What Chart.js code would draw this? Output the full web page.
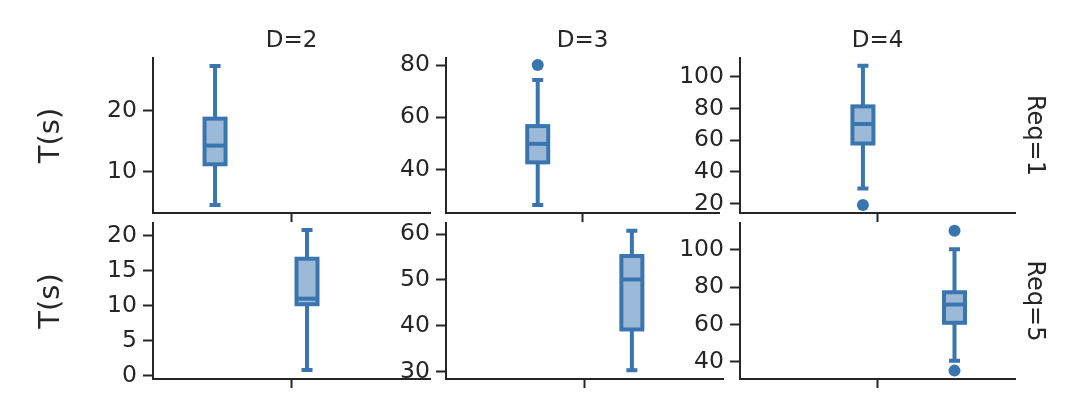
<!DOCTYPE html>
<html>
<head>
<meta charset="utf-8">
<script src="https://cdn.jsdelivr.net/npm/chart.js@4.4.0/dist/chart.umd.min.js"></script>
<style>
  body { margin: 0; background: #fff; width: 1082px; height: 406px; position: relative; overflow: hidden; }
  canvas { position: absolute; }
</style>
</head>
<body>
<canvas id="p0"></canvas><canvas id="p1"></canvas><canvas id="p2"></canvas>
<canvas id="p3"></canvas><canvas id="p4"></canvas><canvas id="p5"></canvas>
<script>
// facets
const dLabels = ['D=2', 'D=3', 'D=4'];
const reqLabels = ['Req=1', 'Req=5'];

// box stats, row by row (Req=1 then Req=5), columns D=2, D=3, D=4
const lowWhisker  = [4.6, 26.4, 29.5, 0.8, 30.3, 40.5];
const q1          = [11.25, 42.7, 57.9, 10.2, 39.2, 60.9];
const median      = [14.3, 49.8, 70.2, 11.0, 50.1, 70.7];
const q3          = [18.7, 56.6, 81.3, 16.7, 55.2, 77.3];
const highWhisker = [27.3, 74.3, 106.9, 20.8, 60.7, 100.4];
const outliers    = [[], [80], [19.2], [], [], [110.4, 35.2]];
// dodge position of each box along the x band (0..1)
const boxX = [0.224, 0.336, 0.447, 0.556, 0.671, 0.78];

// y axis ranges and tick steps
const yMin  = [3.3, 23.3, 14.1, -0.47, 28.4, 30.7];
const yMax  = [28.6, 82.7, 111.8, 21.8, 62.4, 114.5];
const yStep = [10, 20, 20, 5, 10, 20];

const STROKE = 'rgb(58,117,175)';
const FILL = 'rgba(58,117,175,0.5)';
const INK = '#262626';
const BOX_HALF = 10.5, CAP_HALF = 5.5;
const TICK_SIZE = 23.5, TITLE_SIZE = 23, SUB_SIZE = 24, AXIS_TITLE_SIZE = 29;

Chart.defaults.font.family = 'DejaVu Sans';
Chart.defaults.color = INK;

// page grid of the plot areas
const colLeft = [153, 446, 740], colRight = [430, 723, 1015];
const rowTop = [58, 223], rowBottom = [213, 379];

const boxPlugin = {
  id: 'boxes',
  afterDatasetsDraw(chart, args, opts) {
    const i = opts.panel;
    const {x, y} = chart.scales;
    const ctx = chart.ctx;
    const cx = x.getPixelForValue(boxX[i]);
    const py = v => y.getPixelForValue(v);
    ctx.save();
    ctx.strokeStyle = STROKE;
    ctx.lineWidth = 4;
    ctx.beginPath();
    ctx.moveTo(cx, py(q3[i])); ctx.lineTo(cx, py(highWhisker[i]));
    ctx.moveTo(cx, py(q1[i])); ctx.lineTo(cx, py(lowWhisker[i]));
    ctx.moveTo(cx - CAP_HALF, py(highWhisker[i])); ctx.lineTo(cx + CAP_HALF, py(highWhisker[i]));
    ctx.moveTo(cx - CAP_HALF, py(lowWhisker[i])); ctx.lineTo(cx + CAP_HALF, py(lowWhisker[i]));
    ctx.stroke();
    const top = py(q3[i]), bot = py(q1[i]);
    ctx.fillStyle = '#fff';
    ctx.fillRect(cx - BOX_HALF, top, BOX_HALF * 2, bot - top);
    ctx.fillStyle = FILL;
    ctx.fillRect(cx - BOX_HALF, top, BOX_HALF * 2, bot - top);
    ctx.strokeRect(cx - BOX_HALF, top, BOX_HALF * 2, bot - top);
    ctx.beginPath();
    ctx.moveTo(cx - BOX_HALF, py(median[i])); ctx.lineTo(cx + BOX_HALF, py(median[i]));
    ctx.stroke();
    ctx.restore();
  }
};

const TITLE_H = TITLE_SIZE * 1.2 + 3;
const SUB_W = SUB_SIZE * 1.2 + 5;

for (let i = 0; i < 6; i++) {
  const r = Math.floor(i / 3), c = i % 3;
  const left = c === 0 ? 0 : colLeft[c] - 80;
  const yAxisW = colLeft[c] - left;
  const top = r === 0 ? 0 : rowTop[1] - 8;
  const right = c === 2 ? 1082 : colRight[c] + 2;
  const bottom = rowBottom[r] + 12;
  const padTop = rowTop[r] - top - (r === 0 ? TITLE_H : 0);
  const padRight = c === 2 ? right - colRight[c] - SUB_W : 2;

  const cv = document.getElementById('p' + i);
  cv.width = right - left;
  cv.height = bottom - top;
  cv.style.left = left + 'px';
  cv.style.top = top + 'px';

  new Chart(cv, {
    type: 'scatter',
    data: {
      datasets: [{
        data: outliers[i].map(v => ({x: boxX[i], y: v})),
        pointRadius: 6,
        pointBackgroundColor: STROKE,
        pointBorderWidth: 0
      }]
    },
    options: {
      responsive: false,
      animation: false,
      events: [],
      layout: { padding: { top: padTop, right: padRight, bottom: 0, left: 0 } },
      plugins: {
        legend: { display: false },
        tooltip: { enabled: false },
        boxes: { panel: i },
        title: {
          display: r === 0,
          text: dLabels[c],
          fullSize: false,
          font: { size: TITLE_SIZE, weight: 'normal' },
          padding: { top: 0, bottom: 3 },
          color: INK
        },
        subtitle: {
          display: c === 2,
          text: reqLabels[r],
          position: 'right',
          fullSize: false,
          font: { size: SUB_SIZE, weight: 'normal' },
          padding: { top: 0, bottom: 5 },
          color: INK
        }
      },
      scales: {
        x: {
          type: 'linear',
          min: 0, max: 1,
          afterBuildTicks: s => { s.ticks = [{ value: 0.5 }]; },
          afterFit: s => { s.height = 12; s.paddingLeft = 0; s.paddingRight = 0; },
          ticks: { display: false },
          grid: { drawOnChartArea: false, tickLength: 9, tickWidth: 2, tickColor: INK },
          border: { color: INK, width: 2 }
        },
        y: {
          min: yMin[i], max: yMax[i],
          afterFit: s => { s.width = yAxisW; s.paddingTop = 0; s.paddingBottom = 0; },
          ticks: { stepSize: yStep[i], includeBounds: false, padding: 6, font: { size: TICK_SIZE }, color: INK },
          grid: { drawOnChartArea: false, tickLength: 10, tickWidth: 2, tickColor: INK },
          border: { color: INK, width: 2 },
          title: {
            display: c === 0,
            text: 'T(s)',
            font: { size: AXIS_TITLE_SIZE },
            color: INK,
            padding: { top: 34, bottom: 0 }
          }
        }
      }
    },
    plugins: [boxPlugin]
  });
}
</script>
</body>
</html>
